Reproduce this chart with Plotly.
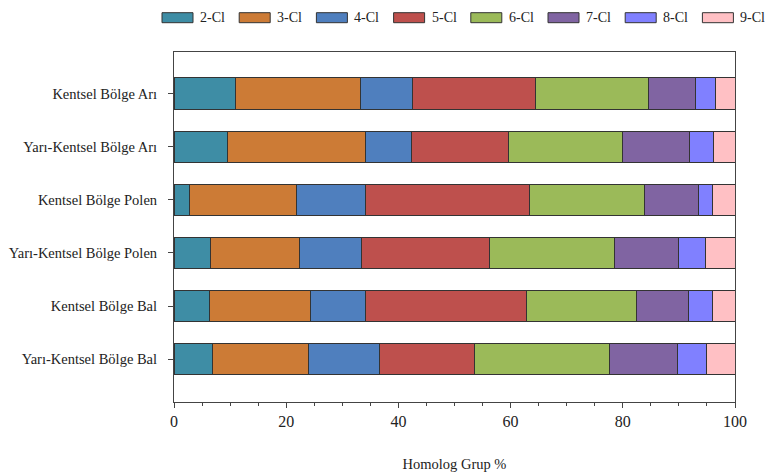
import plotly.graph_objects as go

categories = ["Kentsel Bölge Arı", "Yarı-Kentsel Bölge Arı", "Kentsel Bölge Polen",
              "Yarı-Kentsel Bölge Polen", "Kentsel Bölge Bal", "Yarı-Kentsel Bölge Bal"]
series_names = ["2-Cl", "3-Cl", "4-Cl", "5-Cl", "6-Cl", "7-Cl", "8-Cl", "9-Cl"]

cl2 = [11.0, 9.6, 2.7, 6.5, 6.4, 6.9]
cl3 = [22.2, 24.6, 19.1, 15.9, 18.0, 17.0]
cl4 = [9.4, 8.1, 12.4, 11.0, 9.7, 12.7]
cl5 = [21.8, 17.4, 29.1, 22.9, 28.7, 16.9]
cl6 = [20.2, 20.3, 20.6, 22.2, 19.6, 24.1]
cl7 = [8.4, 11.8, 9.6, 11.4, 9.3, 12.1]
cl8 = [3.5, 4.4, 2.5, 4.8, 4.2, 5.2]
cl9 = [3.5, 3.8, 4.0, 5.3, 4.1, 5.2]

values = [cl2, cl3, cl4, cl5, cl6, cl7, cl8, cl9]
colors = ["#3E8DA5", "#CC7B36", "#4F7FBE", "#BE504D", "#9BBA59", "#8064A2", "#8080FF", "#FFC0C4"]

# figure geometry (page has an 8px body margin)
W, H = 765, 468
L, R, T, B = 166, 38, 44, 74
PW, PH = W - L - R, H - T - B

def px_to_paper_x(px):
    return (px - L) / PW

def px_to_paper_y(py):
    return (H - B - py) / PH

fig = go.Figure()
for name, vals, col in zip(series_names, values, colors):
    fig.add_trace(go.Bar(
        y=categories, x=vals, name=name, orientation="h", showlegend=False,
        marker=dict(color=col, line=dict(color="#333333", width=1)),
    ))

# custom legend (wide rectangular swatches)
shapes, annotations = [], []
leg_x0, leg_step, sw_w, sw_y0, sw_y1 = 154, 77.2, 31, 4.7, 14.7
for i, (name, col) in enumerate(zip(series_names, colors)):
    x0 = leg_x0 + i * leg_step
    shapes.append(dict(type="rect", xref="paper", yref="paper",
                       x0=px_to_paper_x(x0), x1=px_to_paper_x(x0 + sw_w),
                       y0=px_to_paper_y(sw_y1), y1=px_to_paper_y(sw_y0),
                       fillcolor=col, line=dict(color="#333333", width=1)))
    annotations.append(dict(xref="paper", yref="paper", x=px_to_paper_x(x0 + sw_w + 5),
                            y=px_to_paper_y((sw_y0 + sw_y1) / 2), text=name, showarrow=False,
                            xanchor="left", yanchor="middle",
                            font=dict(family="Liberation Serif", size=14, color="#222222")))

fig.update_layout(
    barmode="stack",
    bargap=0.40,
    width=W, height=H,
    margin=dict(l=L, r=R, t=T, b=B, autoexpand=False),
    paper_bgcolor="white", plot_bgcolor="white",
    font=dict(family="Liberation Serif", size=14.5, color="#222222"),
    showlegend=False,
    shapes=shapes,
    annotations=annotations,
    xaxis=dict(range=[0, 100], tickvals=[0, 20, 40, 60, 80, 100], ticks="outside",
               ticklen=5, tickcolor="#444444", showline=True, linecolor="#444444",
               linewidth=1, mirror=True, showgrid=False, zeroline=False,
               tickfont=dict(size=16), automargin=False,
               minor=dict(dtick=5, ticks="outside", ticklen=3, tickcolor="#444444"),
               title=dict(text="Homolog Grup %", standoff=29, font=dict(size=14.5))),
    yaxis=dict(autorange=False, range=[5.81, -0.79], ticks="outside", ticklen=5,
               tickcolor="#444444", showline=True, linecolor="#444444", linewidth=1,
               mirror=True, showgrid=False, tickfont=dict(size=14.5),
               ticklabelstandoff=8, automargin=False),
)

fig.write_html("out.html")
